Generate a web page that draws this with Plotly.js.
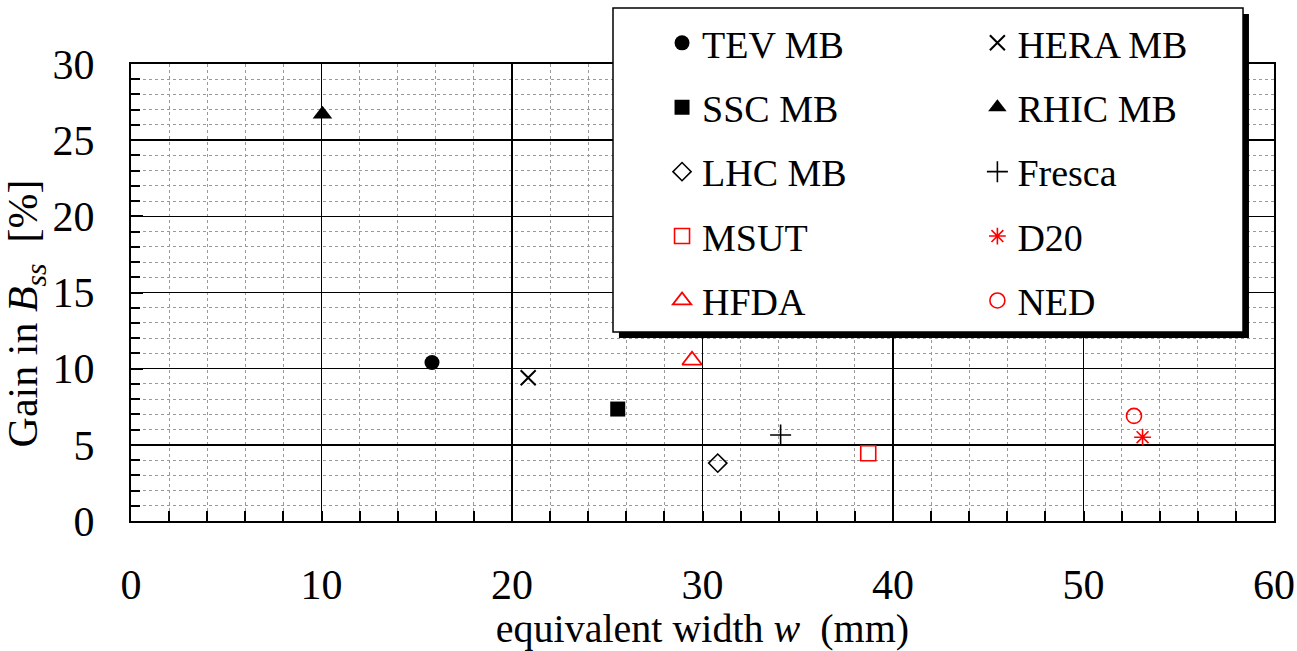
<!DOCTYPE html>
<html>
<head>
<meta charset="utf-8">
<script src="https://cdn.plot.ly/plotly-3.0.1.min.js"></script>
<style>html,body{margin:0;padding:0;background:#fff;}#chart{width:1297px;height:651px;}</style>
</head>
<body>
<div id="chart"></div>
<script>
// Data
const seriesNames = ["TEV MB", "HERA MB", "SSC MB", "RHIC MB", "LHC MB", "Fresca", "MSUT", "D20", "HFDA", "NED"];
const widthMM = [15.8, 20.85, 25.55, 10.05, 30.8, 34.1, 38.7, 53.1, 29.45, 52.65];
const gainBss = [10.4, 9.4, 7.35, 26.7, 3.8, 5.65, 4.45, 5.5, 10.55, 6.9];
const xTickLabels = ["0", "10", "20", "30", "40", "50", "60"];
const yTickLabels = ["0", "5", "10", "15", "20", "25", "30"];

// Styling per series
const styles = [
  {symbol: "circle", color: "black", size: 15, lw: 0, legend: "legend"},
  {symbol: "x-thin-open", color: "black", size: 15, lw: 2, legend: "legend2"},
  {symbol: "square", color: "black", size: 15, lw: 0, legend: "legend"},
  {symbol: "triangle-up", color: "black", size: 17, lw: 0, legend: "legend2"},
  {symbol: "diamond-open", color: "black", size: 14, lw: 1.6, legend: "legend"},
  {symbol: "cross-thin-open", color: "black", size: 15, lw: 1.6, legend: "legend2"},
  {symbol: "square-open", color: "red", size: 15, lw: 1.6, legend: "legend"},
  {symbol: "asterisk-open", color: "red", size: 14, lw: 1.6, legend: "legend2"},
  {symbol: "triangle-up-open", color: "red", size: 17, lw: 1.8, legend: "legend"},
  {symbol: "circle-open", color: "red", size: 15, lw: 1.6, legend: "legend2"}
];

const FONT = "Liberation Serif, Times New Roman, serif";

const traces = seriesNames.map((name, i) => ({
  type: "scatter",
  mode: "markers",
  name: name,
  x: [widthMM[i]],
  y: [gainBss[i]],
  legend: styles[i].legend,
  legendgroup: "g" + i,
  marker: {
    symbol: styles[i].symbol,
    color: styles[i].color,
    size: styles[i].size,
    line: {color: styles[i].color, width: styles[i].lw}
  },
  hoverinfo: "x+y+name"
}));

const legendCommon = {
  orientation: "v",
  bgcolor: "rgba(0,0,0,0)",
  borderwidth: 0,
  font: {family: FONT, size: 38, color: "black"},
  tracegroupgap: 12,
  xanchor: "left",
  yanchor: "top",
  itemclick: false,
  itemdoubleclick: false
};

const layout = {
  width: 1297,
  height: 651,
  margin: {l: 131, r: 23, t: 64, b: 130},
  paper_bgcolor: "white",
  plot_bgcolor: "white",
  font: {family: FONT, color: "black"},
  showlegend: true,
  legend: Object.assign({}, legendCommon, {x: 0.4646, y: 1.1146}),
  legend2: Object.assign({}, legendCommon, {x: 0.7405, y: 1.1146}),
  xaxis: {
    range: [0, 60],
    tickmode: "array",
    tickvals: xTickLabels.map(Number),
    ticktext: xTickLabels,
    ticks: "inside",
    ticklen: 10,
    tickwidth: 2,
    tickcolor: "black",
    ticklabelstandoff: 26,
    tickfont: {family: FONT, size: 42, color: "black"},
    showgrid: true,
    gridcolor: "black",
    gridwidth: 1.5,
    zeroline: false,
    showline: true,
    linecolor: "black",
    linewidth: 2,
    mirror: true,
    minor: {dtick: 2, ticks: "inside", ticklen: 10, tickwidth: 2, tickcolor: "black",
            showgrid: true, gridcolor: "#999999", gridwidth: 1, griddash: "dot"},
    title: {text: "equivalent width <i>w</i>  (mm)", font: {family: FONT, size: 40, color: "black"}, standoff: 4}
  },
  yaxis: {
    range: [0, 30],
    tickmode: "array",
    tickvals: yTickLabels.map(Number),
    ticktext: yTickLabels,
    ticks: "inside",
    ticklen: 12,
    tickwidth: 2,
    tickcolor: "black",
    ticklabelstandoff: 26,
    tickfont: {family: FONT, size: 42, color: "black"},
    showgrid: true,
    gridcolor: "black",
    gridwidth: 1.5,
    zeroline: false,
    showline: true,
    linecolor: "black",
    linewidth: 2,
    mirror: true,
    minor: {dtick: 1, ticks: "inside", ticklen: 9, tickwidth: 2, tickcolor: "black",
            showgrid: true, gridcolor: "#999999", gridwidth: 1, griddash: "dot"},
    title: {text: "Gain in <i>B</i><sub><i>ss</i></sub>  [%]&nbsp;&nbsp;&nbsp;&nbsp;", font: {family: FONT, size: 42, color: "black"}, standoff: 6}
  },
  shapes: [
    {type: "rect", xref: "paper", yref: "paper", x0: 0.4269, x1: 0.9781, y0: 0.4004, y1: 1.1094,
     fillcolor: "black", line: {width: 0}, layer: "above"},
    {type: "rect", xref: "paper", yref: "paper", x0: 0.4217, x1: 0.9729, y0: 0.4136, y1: 1.1225,
     fillcolor: "white", line: {color: "black", width: 1.5}, layer: "above"}
  ]
};

Plotly.newPlot("chart", traces, layout, {displayModeBar: false, staticPlot: true});
</script>
</body>
</html>
